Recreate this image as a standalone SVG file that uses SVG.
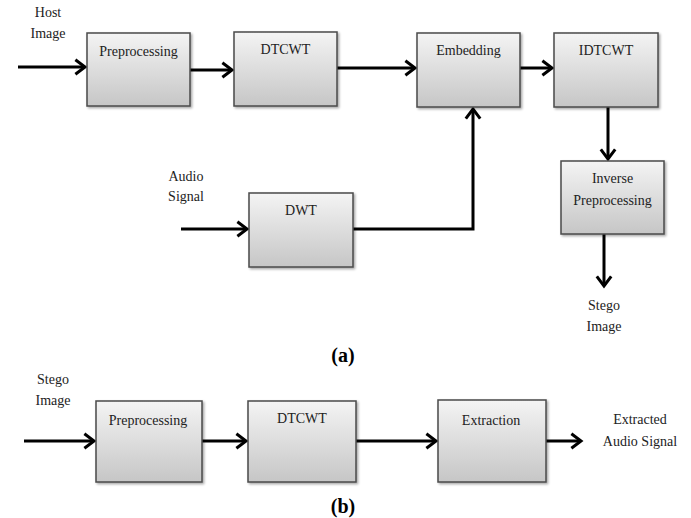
<svg xmlns="http://www.w3.org/2000/svg" width="691" height="518" viewBox="0 0 691 518">
<style>
.box{fill:url(#g);stroke:#4a4a4a;stroke-width:1.5}
.t{font-family:'Liberation Serif','DejaVu Serif',serif;font-size:14px;fill:#222;text-anchor:middle}
.lb{font-family:'Liberation Serif','DejaVu Serif',serif;font-size:20px;font-weight:bold;fill:#000;text-anchor:middle}
.c{fill:none;stroke:#000;stroke-width:3;marker-end:url(#ah)}
</style>
<defs>
<linearGradient id="g" x1="0" y1="0" x2="0" y2="1">
<stop offset="0" stop-color="#f4f4f4"/>
<stop offset="1" stop-color="#c6c6c6"/>
</linearGradient>
<filter id="sh" x="-10%" y="-10%" width="130%" height="130%">
<feDropShadow dx="1.5" dy="1.5" stdDeviation="1" flood-color="#000" flood-opacity="0.35"/>
</filter>
<marker id="ah" markerWidth="6" markerHeight="6" refX="4.2" refY="3" orient="auto" markerUnits="strokeWidth">
<path d="M1,0.6 L4.2,3 L1,5.4" fill="none" stroke="#000" stroke-width="1"/>
</marker>
</defs>

<g id="connectors">
<path class="c" d="M18,67 H85"/>
<path class="c" d="M190,70 H232"/>
<path class="c" d="M337,68 H415"/>
<path class="c" d="M520,68 H552"/>
<path class="c" d="M608,107 V159"/>
<path class="c" d="M181,229 H247"/>
<path class="c" d="M353,229 H473 V109"/>
<path class="c" d="M604,234 V286"/>
<path class="c" d="M24,441 H94"/>
<path class="c" d="M202,441 H246"/>
<path class="c" d="M356,441 H436"/>
<path class="c" d="M546,441 H581"/>
</g>

<g id="host-image"><text class="t" x="48" y="17">Host</text><text class="t" x="48" y="38">Image</text></g>
<g id="preprocessing-a"><rect class="box" filter="url(#sh)" x="87" y="33" width="103" height="73"/><text class="t" x="138.5" y="56">Preprocessing</text></g>
<g id="dtcwt-a"><rect class="box" filter="url(#sh)" x="234" y="32" width="103" height="74"/><text class="t" x="285.5" y="54">DTCWT</text></g>
<g id="embedding"><rect class="box" filter="url(#sh)" x="417" y="33" width="103" height="74"/><text class="t" x="468.5" y="55">Embedding</text></g>
<g id="idtcwt"><rect class="box" filter="url(#sh)" x="554" y="33" width="104" height="74"/><text class="t" x="606" y="55">IDTCWT</text></g>
<g id="audio-signal"><text class="t" x="186" y="181">Audio</text><text class="t" x="186" y="201">Signal</text></g>
<g id="dwt"><rect class="box" filter="url(#sh)" x="249" y="193" width="104" height="74"/><text class="t" x="301" y="215">DWT</text></g>
<g id="inverse-preprocessing"><rect class="box" filter="url(#sh)" x="561" y="161" width="103" height="73"/><text class="t" x="612.5" y="183">Inverse</text><text class="t" x="612.5" y="205">Preprocessing</text></g>
<g id="stego-image-out"><text class="t" x="604" y="310">Stego</text><text class="t" x="604" y="331">Image</text></g>
<text class="lb" x="343" y="362">(a)</text>

<g id="stego-image-in"><text class="t" x="53" y="384">Stego</text><text class="t" x="53" y="405">Image</text></g>
<g id="preprocessing-b"><rect class="box" filter="url(#sh)" x="96" y="401" width="106" height="81"/><text class="t" x="148" y="425">Preprocessing</text></g>
<g id="dtcwt-b"><rect class="box" filter="url(#sh)" x="248" y="401" width="108" height="81"/><text class="t" x="302" y="423">DTCWT</text></g>
<g id="extraction"><rect class="box" filter="url(#sh)" x="438" y="400" width="108" height="82"/><text class="t" x="491" y="425">Extraction</text></g>
<g id="extracted-audio"><text class="t" x="640" y="424">Extracted</text><text class="t" x="640" y="446">Audio Signal</text></g>
<text class="lb" x="343" y="513">(b)</text>
</svg>
